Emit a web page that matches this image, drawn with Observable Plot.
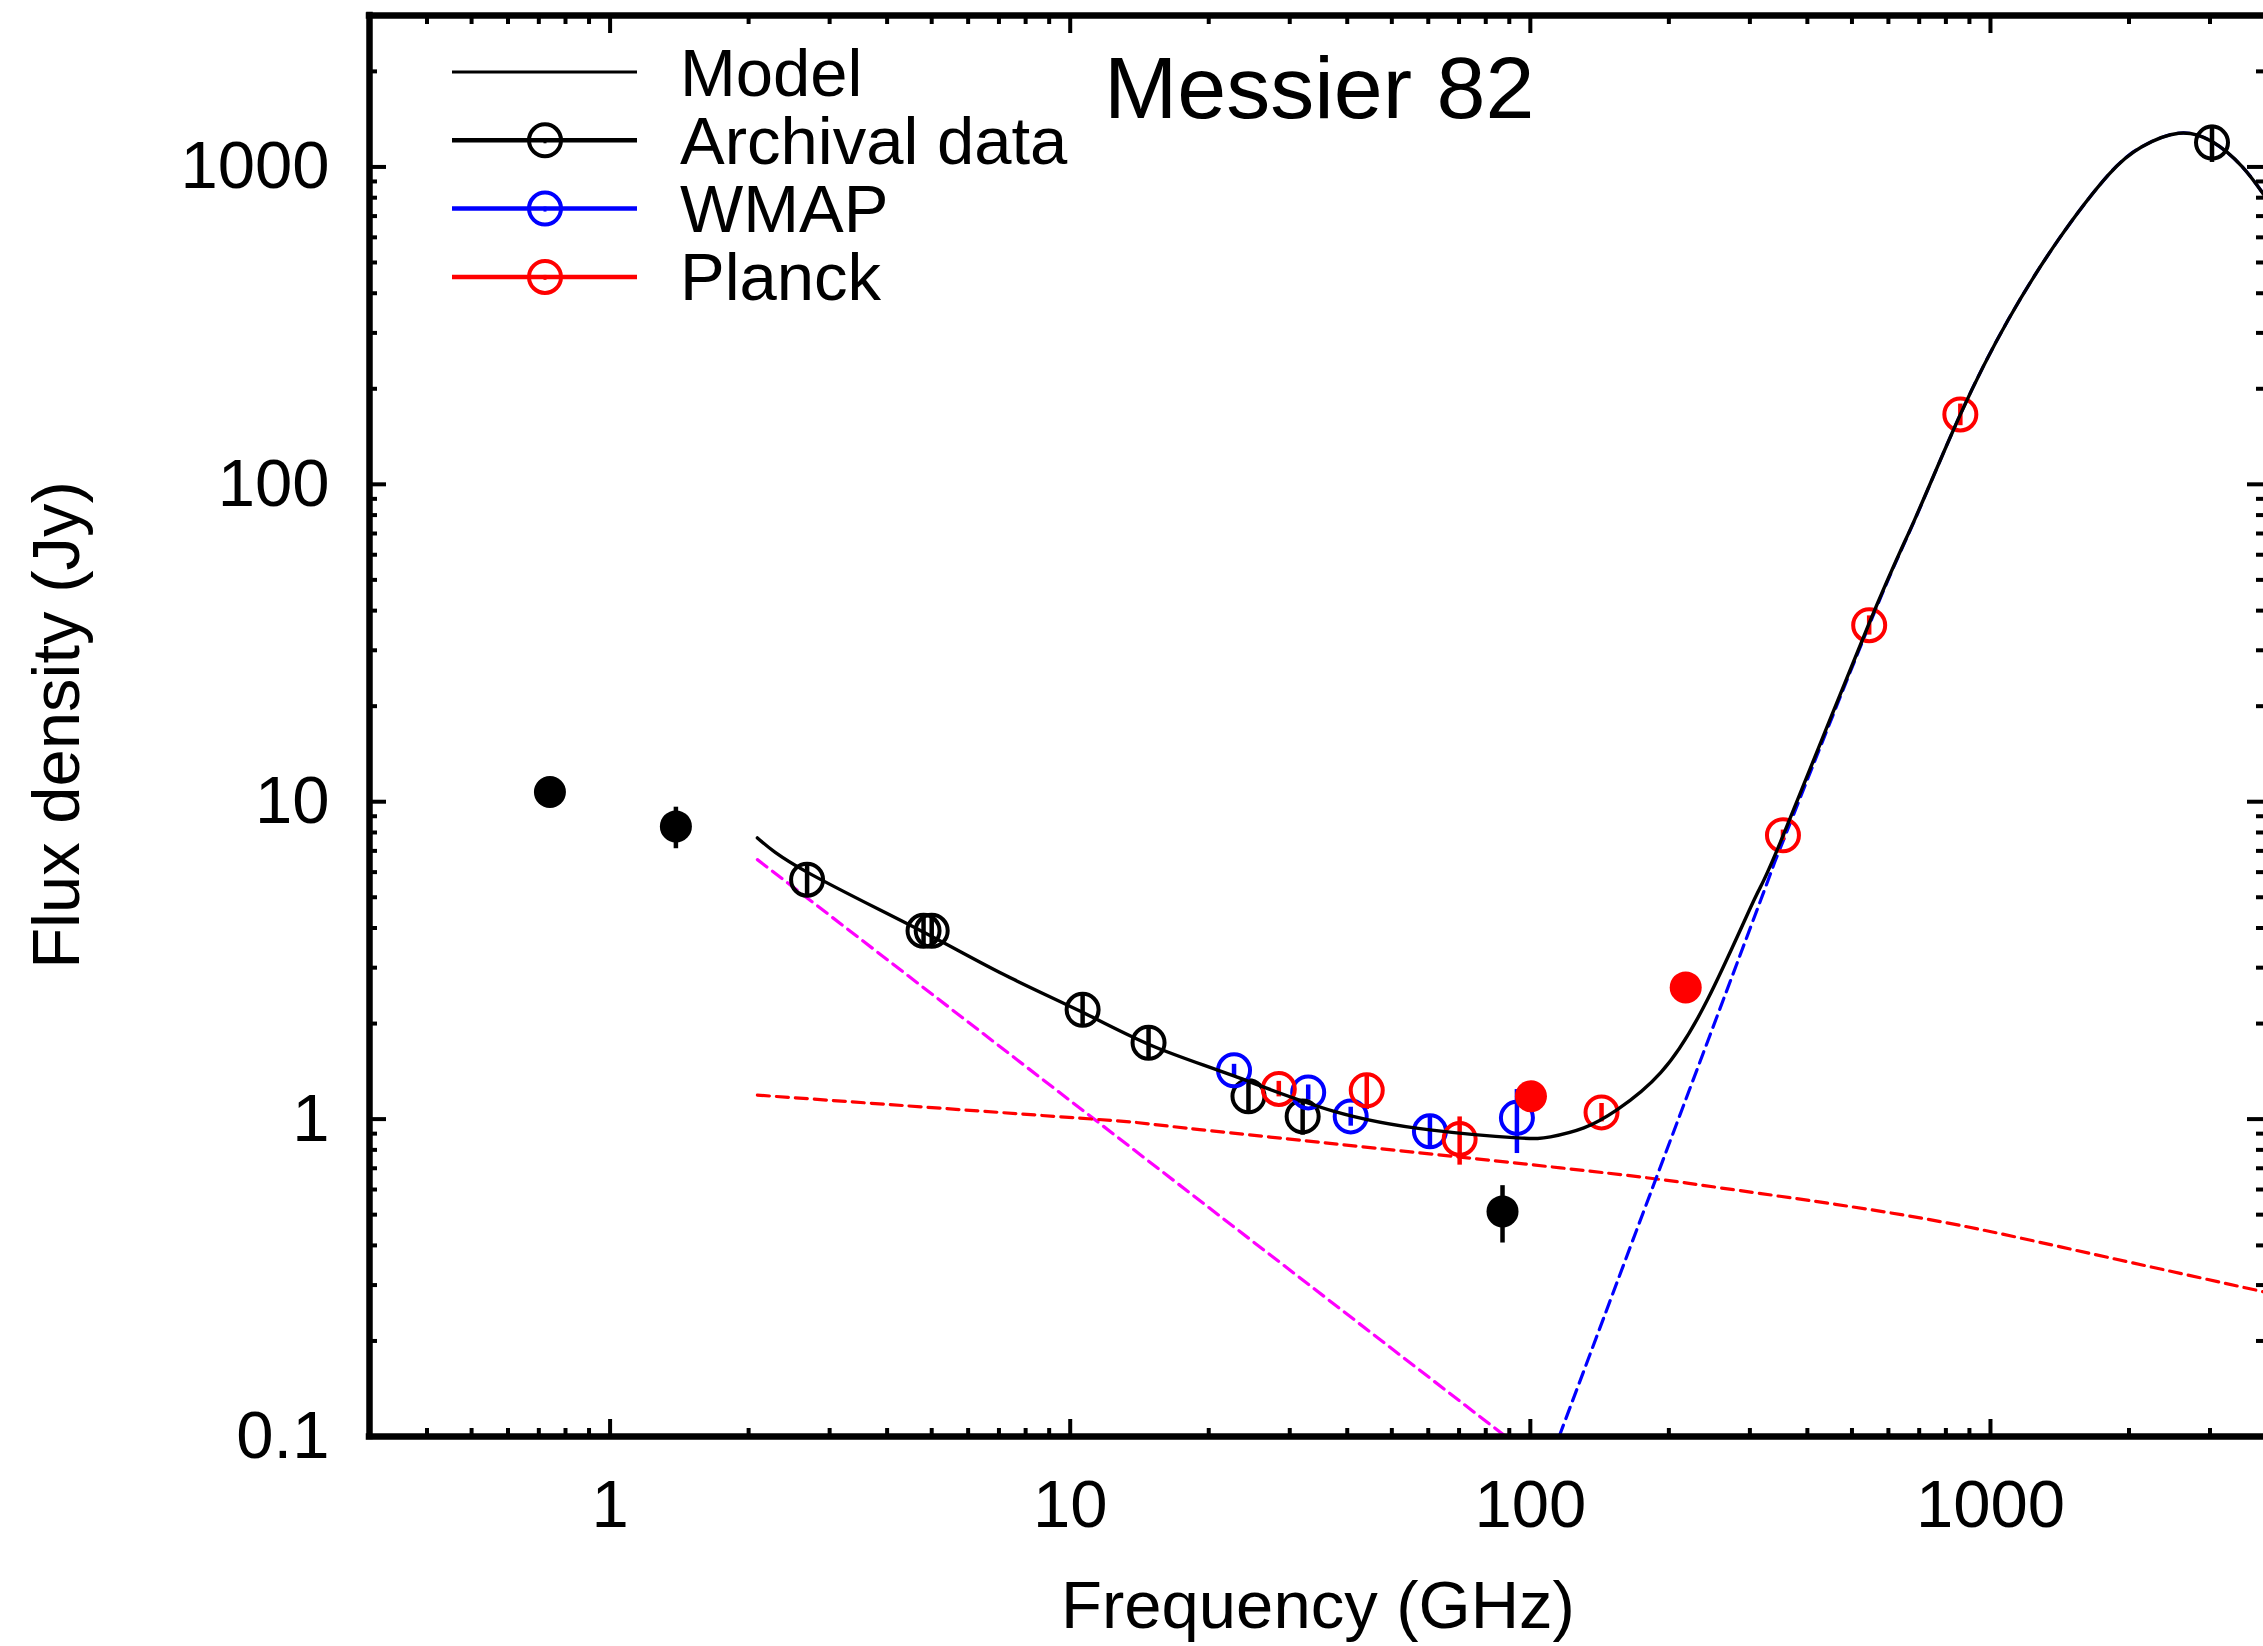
<!DOCTYPE html>
<html><head><meta charset="utf-8">
<script src="https://cdn.jsdelivr.net/npm/d3@7"></script>
<script src="https://cdn.jsdelivr.net/npm/@observablehq/plot@0.6"></script>
<style>
html,body{margin:0;padding:0;background:#fff;overflow:hidden;}
#chart svg{display:block}
</style></head><body><div id="chart"></div>
<script>
// ---- axes ----
const xDomain = [0.3, 4000];
const yDomain = [0.1, 3000];
const xMajor = [1, 10, 100, 1000];
const xMinor = [0.4,0.5,0.6,0.7,0.8,0.9, 2,3,4,5,6,7,8,9, 20,30,40,50,60,70,80,90, 200,300,400,500,600,700,800,900, 2000,3000];
const yMajor = [0.1, 1, 10, 100, 1000];
const yMinor = [0.2,0.3,0.4,0.5,0.6,0.7,0.8,0.9, 2,3,4,5,6,7,8,9, 20,30,40,50,60,70,80,90, 200,300,400,500,600,700,800,900, 2000];

// ---- data (GHz, Jy) ----
const archFreq = [2.68, 4.8, 5.0, 10.64, 14.8, 24.4, 32.0, 3030];
const archFlux = [5.68, 3.92, 3.92, 2.21, 1.74, 1.18, 1.02, 1193];
const archErr  = [0.68, 0.45, 0.45, 0.26, 0.20, 0.14, 0.13, 160];

const archFilledFreq = [0.74, 1.39, 87.0];
const archFilledFlux = [10.73, 8.36, 0.512];
const archFilledErr  = [0, 1.25, 0.105];

const wmapFreq = [22.7, 32.9, 40.7, 60.5, 93.5];
const wmapFlux = [1.425, 1.214, 1.02, 0.915, 1.009];
const wmapErr  = [0.063, 0.067, 0.07, 0.11, 0.23];

const planckFreq = [28.4, 44.1, 70.2, 142.8, 354, 545, 860];
const planckFlux = [1.245, 1.232, 0.866, 1.05, 7.84, 36.0, 166];
const planckErr  = [0.07, 0.16, 0.15, 0.07, 0.3, 2.5, 13];

const planckFilledFreq = [100.3, 217.6];
const planckFilledFlux = [1.18, 2.60];

// model curves
const modelFreq = [2.09, 2.68, 4.69, 7.12, 10.64, 15.1, 22.6, 37.3, 60.5, 93.5, 110.6, 130.7, 154.5, 192, 242.7, 306.5, 354, 545, 684, 860, 1093, 1404, 1804, 2133, 2564, 3030, 3523, 3954];
const modelFlux = [7.69, 6.0, 3.95, 2.87, 2.17, 1.70, 1.37, 1.06, 0.925, 0.873, 0.879, 0.938, 1.071, 1.40, 2.38, 4.91, 7.8, 36.5, 77.3, 166, 330, 589, 944, 1158, 1277, 1202, 1002, 806];

const syncFreq = [2.09, 11.18, 88.4];
const syncFlux = [6.57, 1.009, 0.1];

const ffFreq = [2.09, 11.2, 19.1, 116.3, 259.4, 640, 1428, 3954];
const ffFlux = [1.19, 1.0, 0.927, 0.702, 0.607, 0.50, 0.395, 0.285];

const dustFreq = [115.5, 149.4, 187.2, 316.9, 354, 545, 684, 860, 1093, 1404, 1804, 2133, 2564, 3030, 3523, 3954];
const dustFlux = [0.1, 0.27, 0.645, 4.91, 7.5, 36.0, 77, 166, 330, 589, 944, 1158, 1277, 1202, 1002, 806];

const legendLabels = ["Model", "Archival data", "WMAP", "Planck"];
const legendColors = ["#000000", "#000000", "#0000ff", "#ff0000"];

// ---- build tables ----
const zip3 = (F, S, E) => F.map((f, i) => ({f, S: S[i], e: E ? E[i] : 0}));
const arch = zip3(archFreq, archFlux, archErr);
const archFilled = zip3(archFilledFreq, archFilledFlux, archFilledErr);
const wmap = zip3(wmapFreq, wmapFlux, wmapErr);
const planck = zip3(planckFreq, planckFlux, planckErr);
const planckFilled = zip3(planckFilledFreq, planckFilledFlux);
const model = zip3(modelFreq, modelFlux);
const sync = zip3(syncFreq, syncFlux);
const ff = zip3(ffFreq, ffFlux);
const dust = zip3(dustFreq, dustFlux);

const FONT = "'Liberation Sans', Arial, Helvetica, sans-serif";
const dash = "12,7";
const errBars = (data, color) => Plot.ruleX(data.filter(d => d.e > 0), {x: "f", y1: d => d.S - d.e, y2: d => d.S + d.e, stroke: color, strokeWidth: 4.5});
const openDots = (data, color) => Plot.dot(data, {x: "f", y: "S", r: 16, stroke: color, strokeWidth: 4, fill: "none"});
const filledDots = (data, color) => Plot.dot(data, {x: "f", y: "S", r: 16, fill: color, stroke: "none"});

const tickOpts = {tickFormat: () => "", label: null, stroke: "black"};

const plot = Plot.plot({
  width: 2263, height: 1646,
  marginLeft: 369, marginTop: 15, marginRight: 0, marginBottom: 210,
  style: {fontFamily: FONT, fontSize: "67px", color: "black", background: "white", maxWidth: "none"},
  x: {type: "log", domain: xDomain, range: [369, 2267]},
  y: {type: "log", domain: yDomain},
  marks: [
    // component curves
    Plot.line(sync, {x: "f", y: "S", stroke: "#ff00ff", strokeWidth: 3.2, strokeDasharray: dash}),
    Plot.line(ff, {x: "f", y: "S", stroke: "#ff0000", strokeWidth: 3.2, strokeDasharray: dash, curve: "natural"}),
    Plot.line(dust, {x: "f", y: "S", stroke: "#0000ff", strokeWidth: 3.2, strokeDasharray: dash, curve: "natural"}),
    // error bars
    errBars(arch, "#000000"),
    errBars(archFilled, "#000000"),
    errBars(wmap, "#0000ff"),
    errBars(planck, "#ff0000"),
    // points
    openDots(arch, "#000000"),
    filledDots(archFilled, "#000000"),
    openDots(wmap, "#0000ff"),
    openDots(planck, "#ff0000"),
    filledDots(planckFilled, "#ff0000"),
    // total model
    Plot.line(model, {x: "f", y: "S", stroke: "#000000", strokeWidth: 3.4, curve: "natural"}),
    // frame
    Plot.ruleY([yDomain[0], yDomain[1]], {x1: xDomain[0], x2: xDomain[1], stroke: "black", strokeWidth: 6.5, strokeLinecap: "square"}),
    Plot.ruleX([xDomain[0]], {y1: yDomain[0], y2: yDomain[1], stroke: "black", strokeWidth: 6.5, strokeLinecap: "square"}),
    // inward ticks on all four sides
    Plot.axisX(xMajor, {anchor: "bottom", tickSize: -17, strokeWidth: 4, ...tickOpts}),
    Plot.axisX(xMinor, {anchor: "bottom", tickSize: -8, strokeWidth: 4, ...tickOpts}),
    Plot.axisX(xMajor, {anchor: "top", tickSize: -17, strokeWidth: 4, ...tickOpts}),
    Plot.axisX(xMinor, {anchor: "top", tickSize: -8, strokeWidth: 4, ...tickOpts}),
    Plot.axisY(yMajor, {anchor: "left", tickSize: -17, strokeWidth: 4, ...tickOpts}),
    Plot.axisY(yMinor, {anchor: "left", tickSize: -8, strokeWidth: 4, ...tickOpts}),
    Plot.axisY(yMajor, {anchor: "right", tickSize: -17, strokeWidth: 4, ...tickOpts}),
    Plot.axisY(yMinor, {anchor: "right", tickSize: -8, strokeWidth: 4, ...tickOpts}),
    // tick labels
    Plot.axisX(xMajor, {anchor: "bottom", tickSize: 0, tickPadding: 43, label: null, tickFormat: d => String(d), fontSize: 67}),
    Plot.axisY(yMajor, {anchor: "left", tickSize: 0, tickPadding: 40, label: null, tickFormat: d => String(d), fontSize: 67})
  ]
});

document.getElementById("chart").appendChild(plot);

// ---- title, axis titles and in-plot legend ----
const svg = d3.select(plot);
const T = (x, y, size, txt, anchor) => svg.append("text")
  .attr("x", x).attr("y", y).attr("font-family", FONT).attr("font-size", size)
  .attr("fill", "black").attr("text-anchor", anchor || "start").text(txt);

T(1104, 118, 88, "Messier 82");
T(1318, 1628, 67, "Frequency (GHz)", "middle");
svg.append("text").attr("transform", "translate(79,725) rotate(-90)")
  .attr("font-family", FONT).attr("font-size", 67).attr("text-anchor", "middle")
  .attr("fill", "black").text("Flux density (Jy)");

legendLabels.forEach((lab, i) => {
  const y = 72 + i * 68.3;
  svg.append("line").attr("x1", 452).attr("x2", 637).attr("y1", y).attr("y2", y)
    .attr("stroke", legendColors[i]).attr("stroke-width", i === 0 ? 3 : 4.5);
  if (i > 0) {
    svg.append("circle").attr("cx", 545).attr("cy", y).attr("r", 16)
      .attr("fill", "none").attr("stroke", legendColors[i]).attr("stroke-width", 4);
    svg.append("line").attr("x1", 545).attr("x2", 545).attr("y1", y - 2).attr("y2", y + 3)
      .attr("stroke", legendColors[i]).attr("stroke-width", 3);
  }
  T(680, y + 23.5, 67, lab);
});
</script></body></html>
